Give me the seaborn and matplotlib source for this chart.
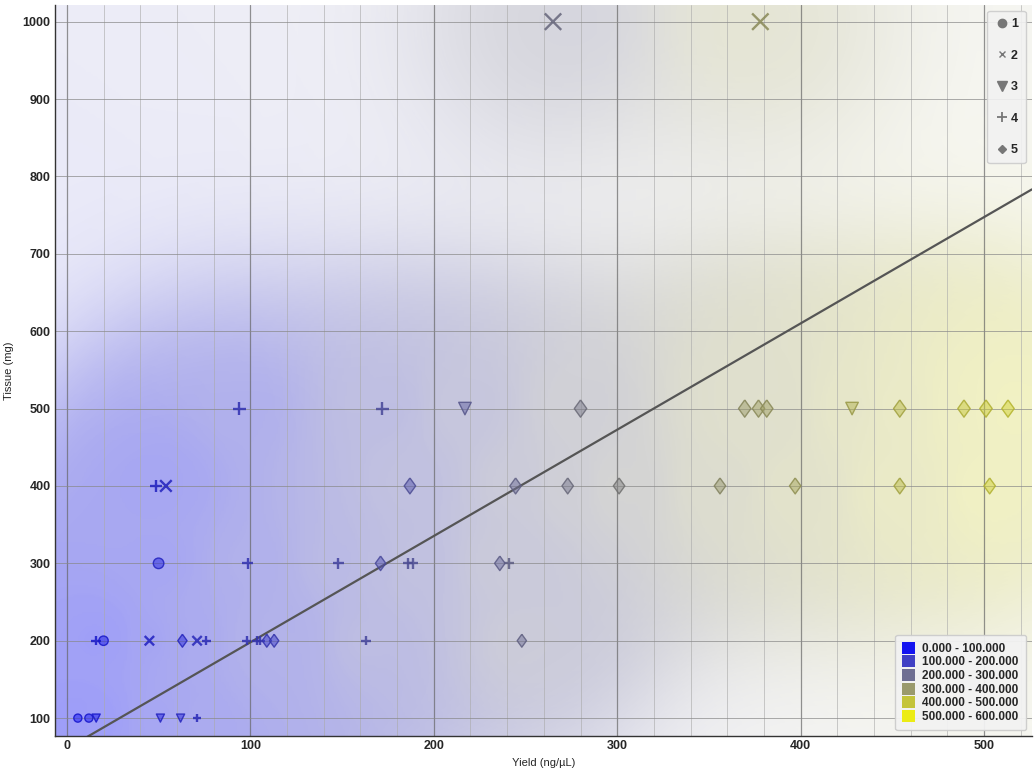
import numpy as np
import pandas as pd
import matplotlib
matplotlib.use("Agg")
import matplotlib.pyplot as plt
import seaborn as sns
from matplotlib.colors import LinearSegmentedColormap
from matplotlib.lines import Line2D
from matplotlib.patches import Patch

sns.set_style("white")
plt.rcParams['font.family'] = ['Liberation Sans', 'DejaVu Sans']

# data: (yield ng/uL, tissue mg) per sample group
group1_yield = [50, 20, 6, 12]
group1_tissue = [300, 200, 100, 100]
group2_yield = [265, 378, 54, 45, 71]
group2_tissue = [1000, 1000, 400, 200, 200]
group3_yield = [217, 428, 16, 51, 62]
group3_tissue = [500, 500, 100, 100, 100]
group4_yield = [94, 172, 48.5, 98.6, 148, 186, 188.5, 241, 16, 76, 98, 103.5, 105.5, 163, 71]
group4_tissue = [500, 500, 400, 300, 300, 300, 300, 300, 200, 200, 200, 200, 200, 200, 100]
group5_yield = [280, 369.5, 377, 381.5, 454, 489, 501, 513,
                187, 244.6, 273, 301, 356, 397, 454, 503,
                171, 236, 63, 109, 113, 248]
group5_tissue = [500, 500, 500, 500, 500, 500, 500, 500,
                 400, 400, 400, 400, 400, 400, 400, 400,
                 300, 300, 200, 200, 200, 200]

group_labels = ['1', '2', '3', '4', '5']
diamond = [(0, 1), (0.72, 0), (0, -1), (-0.72, 0), (0, 1)]
group_markers = ['o', 'x', 'v', '+', diamond]
group_size_scale = [1.0, 1.0, 1.0, 1.0, 1.9]
bin_labels = ['0.000 - 100.000', '100.000 - 200.000', '200.000 - 300.000',
              '300.000 - 400.000', '400.000 - 500.000', '500.000 - 600.000']
bin_colors = ['#1414f0', '#4040c4', '#6e6e92', '#9a9a6c', '#c4c43a', '#ecec14']

# trend line as drawn on the chart
trend_slope = 1.374
trend_intercept = 60.5

frames = []
for lab, yl, ts in zip(group_labels,
                       [group1_yield, group2_yield, group3_yield, group4_yield, group5_yield],
                       [group1_tissue, group2_tissue, group3_tissue, group4_tissue, group5_tissue]):
    frames.append(pd.DataFrame({'yield': yl, 'tissue': ts, 'group': lab}))
df = pd.concat(frames, ignore_index=True)

cmap = LinearSegmentedColormap.from_list('by', [(0.08, 0.08, 0.95), (0.95, 0.95, 0.08)])

xmin, xmax = -6.5, 526
ymin, ymax = 77, 1022

fig = plt.figure(figsize=(10.36, 7.73), dpi=100)
ax = fig.add_axes([0.053, 0.048, 0.943, 0.946])

# background: inverse distance weighted yield field
gx = np.linspace(xmin, xmax, 420)
gy = np.linspace(ymin, ymax, 320)
GX, GY = np.meshgrid(gx, gy)
px = df['yield'].values
py = df['tissue'].values
dx = (GX[..., None] - px) * 1.835
dy = (GY[..., None] - py) * 0.774
d = np.sqrt(dx ** 2 + dy ** 2) + 1e-6
w = 1 / d ** 3
field = (w * px).sum(-1) / w.sum(-1)
dens = np.exp(-d ** 2 / (2 * 85 ** 2)).sum(-1)
alpha = 0.12 + 0.3 * (1 - np.exp(-1.4 * dens))
alpha = alpha * (1 - 0.35 * field / 600)
rgba = cmap(field / 600)
rgba[..., 3] = alpha
ax.imshow(rgba, extent=(xmin, xmax, ymin, ymax), origin='lower', aspect='auto',
          zorder=0, interpolation='bilinear')

# grid
for gxv in np.arange(0, 521, 20):
    major = gxv % 100 == 0
    ax.axvline(gxv, color='#666666' if major else '#aaaaaa',
               lw=0.9 if major else 0.6, alpha=0.7, zorder=1)
for gyv in np.arange(100, 1001, 100):
    ax.axhline(gyv, color='#888888', lw=0.7, alpha=0.7, zorder=1)

# points
for lab, mk, sc in zip(group_labels, group_markers, group_size_scale):
    sub = df[df['group'] == lab]
    sns.scatterplot(data=sub, x='yield', y='tissue', hue='yield', size='tissue',
                    palette=cmap, hue_norm=(0, 600), sizes=(34 * sc, 140 * sc),
                    size_norm=(100, 1000), marker=mk, legend=False, ax=ax, zorder=3)
    coll = ax.collections[-1]
    cols = cmap(sub['yield'].values / 600)
    edge = cols.copy()
    edge[:, :3] = edge[:, :3] * 0.85
    edge[:, 3] = 0.85
    if lab in ('2', '4'):
        coll.set_edgecolors(edge)
        coll.set_linewidths(1.7)
    else:
        face = cols.copy()
        face[:, 3] = 0.5
        coll.set_facecolors(face)
        coll.set_edgecolors(edge)
        coll.set_linewidths(1.0)

# trend line
lx = np.array([xmin, xmax])
ax.plot(lx, trend_slope * lx + trend_intercept, color='#555555', lw=1.6, zorder=2)

ax.set_xlim(xmin, xmax)
ax.set_ylim(ymin, ymax)
ax.set_xticks([0, 100, 200, 300, 400, 500])
ax.set_yticks(np.arange(100, 1001, 100))
ax.tick_params(labelsize=9, length=0, pad=3)
for t in ax.get_xticklabels() + ax.get_yticklabels():
    t.set_fontweight('bold')
ax.set_xlabel('Yield (ng/µL)', fontsize=8, labelpad=4)
ax.set_ylabel('Tissue (mg)', fontsize=8, labelpad=6)
for s in ['top', 'right']:
    ax.spines[s].set_visible(False)
for s in ['left', 'bottom']:
    ax.spines[s].set_color('#333333')
    ax.spines[s].set_linewidth(1.0)

# marker legend
handles = [Line2D([], [], ls='none', marker='o', color='#777777', markersize=6),
           Line2D([], [], ls='none', marker='x', color='#777777', markersize=5),
           Line2D([], [], ls='none', marker='v', color='#777777', markersize=7),
           Line2D([], [], ls='none', marker='+', color='#777777', markersize=7, markeredgewidth=1.3),
           Line2D([], [], ls='none', marker='D', color='#777777', markersize=4.5)]
leg1 = ax.legend(handles, group_labels, loc='upper right', fontsize=9, frameon=True,
                 labelspacing=1.55, handletextpad=0.1, handlelength=1.2, borderpad=0.6,
                 facecolor='#f2f2f2', edgecolor='#cccccc', framealpha=0.9,
                 bbox_to_anchor=(1.0, 1.0))
for t in leg1.get_texts():
    t.set_fontweight('bold')
ax.add_artist(leg1)

# colour bin legend
patches = [Patch(facecolor=c, edgecolor='none') for c in bin_colors]
leg2 = ax.legend(patches, bin_labels, loc='lower right', fontsize=8.5, frameon=True,
                 labelspacing=0.05, handlelength=1.1, handleheight=1.2, handletextpad=0.6,
                 borderpad=0.6, facecolor='#f2f2f2', edgecolor='#cccccc', framealpha=0.95,
                 bbox_to_anchor=(1.0, 0.0))
for t in leg2.get_texts():
    t.set_fontweight('bold')

fig.savefig('out.png', dpi=100)
